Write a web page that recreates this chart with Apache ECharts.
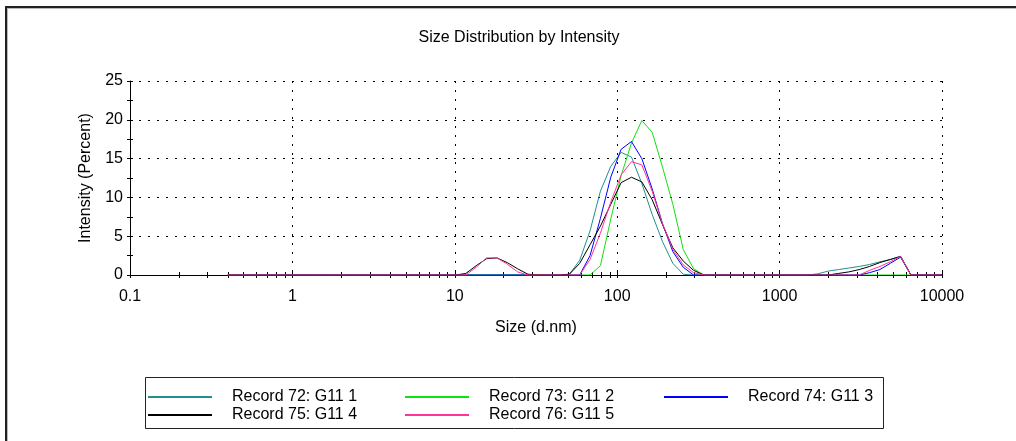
<!DOCTYPE html>
<html>
<head>
<meta charset="utf-8">
<script src="https://cdn.jsdelivr.net/npm/echarts@6/dist/echarts.min.js"></script>
<style>
  html, body { margin: 0; padding: 0; background: #fff; }
  #chart { width: 1016px; height: 441px; }
</style>
</head>
<body>
<div id="chart"></div>
<script>
// size bins (d.nm)
var sizes = [0.4, 0.4632, 0.5365, 0.6213, 0.7195, 0.8332, 0.9649, 1.117, 1.294, 1.499,
  1.736, 2.010, 2.328, 2.696, 3.122, 3.615, 4.187, 4.849, 5.615, 6.503,
  7.531, 8.721, 10.10, 11.70, 13.54, 15.69, 18.17, 21.04, 24.36, 28.21,
  32.67, 37.84, 43.82, 50.75, 58.77, 68.06, 78.82, 91.28, 105.7, 122.4,
  141.8, 164.2, 190.1, 220.2, 255.0, 295.3, 342.0, 396.1, 458.7, 531.2,
  615.1, 712.4, 825.0, 955.4, 1106, 1281, 1484, 1718, 1990, 2305,
  2669, 3091, 3580, 4145, 4801, 5560, 6439, 7456, 8635, 10000];

// intensity (%) per record
var rec72 = [0, 0, 0, 0, 0, 0, 0, 0, 0, 0,
  0, 0, 0, 0, 0, 0, 0, 0, 0, 0,
  0, 0, 0, 0, 0, 0, 0, 0, 0, 0,
  0, 0, 0, 0.1, 1.9, 5.7, 10.8, 14.0, 15.8, 15.2,
  11.8, 7.8, 4.3, 1.5, 0.1, 0, 0, 0, 0, 0,
  0, 0, 0, 0, 0, 0, 0, 0.15, 0.5, 0.7,
  0.9, 1.1, 1.35, 1.7, 2.0, 2.4, 0, 0, 0, 0];
var rec73 = [0, 0, 0, 0, 0, 0, 0, 0, 0, 0,
  0, 0, 0, 0, 0, 0, 0, 0, 0, 0,
  0, 0, 0, 0, 0, 0, 0, 0, 0, 0,
  0, 0, 0, 0, 0, 0, 1.2, 7.2, 12.8, 17.0,
  19.9, 18.4, 13.9, 9.1, 3.3, 0.8, 0, 0, 0, 0,
  0, 0, 0, 0, 0, 0, 0, 0, 0, 0,
  0, 0, 0, 0, 0, 0, 0, 0, 0, 0];
var rec74 = [0, 0, 0, 0, 0, 0, 0, 0, 0, 0,
  0, 0, 0, 0, 0, 0, 0, 0, 0, 0,
  0, 0, 0, 0, 0, 0, 0, 0, 0, 0,
  0, 0, 0, 0, 0, 2.5, 7.3, 12.6, 16.2, 17.2,
  15.0, 11.1, 6.6, 3.0, 1.0, 0, 0, 0, 0, 0,
  0, 0, 0, 0, 0, 0, 0, 0, 0, 0,
  0, 0, 0.3, 0.7, 1.5, 2.3, 0, 0, 0, 0];
var rec75 = [0, 0, 0, 0, 0, 0, 0, 0, 0, 0,
  0, 0, 0, 0, 0, 0, 0, 0, 0, 0,
  0, 0, 0, 0.2, 1.2, 2.1, 2.2, 1.6, 0.8, 0.1,
  0, 0, 0, 0.1, 1.5, 3.9, 6.3, 9.1, 11.9, 12.6,
  12.0, 9.7, 6.5, 3.5, 1.8, 0.6, 0, 0, 0, 0,
  0, 0, 0, 0, 0, 0, 0, 0, 0, 0.2,
  0.4, 0.7, 1.1, 1.6, 2.0, 2.4, 0, 0, 0, 0];
var rec76 = [0, 0, 0, 0, 0, 0, 0, 0, 0, 0,
  0, 0, 0, 0, 0, 0, 0, 0, 0, 0,
  0, 0, 0, 0, 1.0, 2.2, 2.2, 1.4, 0.4, 0,
  0, 0, 0, 0, 0, 2.0, 5.4, 9.4, 12.9, 14.6,
  14.2, 10.8, 6.6, 3.3, 1.3, 0.3, 0, 0, 0, 0,
  0, 0, 0, 0, 0, 0, 0, 0, 0, 0,
  0, 0, 0.6, 1.1, 1.7, 2.4, 0, 0, 0, 0];

var names = ['Record 72: G11 1', 'Record 73: G11 2', 'Record 74: G11 3', 'Record 75: G11 4', 'Record 76: G11 5'];
var colors = ['#1f9090', '#11e011', '#0000ff', '#000000', '#ff3399'];
var records = [rec72, rec73, rec74, rec75, rec76];

var FONT = '"Liberation Sans", Arial, sans-serif';
var chart = echarts.init(document.getElementById('chart'), null, { renderer: 'canvas' });

function pairs(vals) {
  return sizes.map(function (s, i) { return [s, vals[i]]; });
}

var series = records.map(function (vals, i) {
  return {
    name: names[i],
    type: 'line',
    data: pairs(vals),
    symbol: 'none',
    lineStyle: { width: 1, color: colors[i] },
    itemStyle: { color: colors[i] },
    animation: false,
    z: 3 + i
  };
});

var dotted = { type: [2, 7], color: '#000', width: 1 };
var legendCommon = {
  orient: 'vertical',
  top: 388,
  padding: 0,
  itemGap: 0,
  itemWidth: 64,
  itemHeight: 2,
  icon: 'rect',
  selectedMode: false,
  textStyle: { fontFamily: FONT, fontSize: 16, color: '#000', lineHeight: 18, padding: [0, 0, 0, 15] }
};

var option = {
  backgroundColor: '#fff',
  animation: false,
  title: {
    text: 'Size Distribution by Intensity',
    left: 514,
    textAlign: 'center',
    top: 25,
    textStyle: { fontFamily: FONT, fontSize: 16, fontWeight: 'normal', color: '#000' }
  },
  grid: { left: 130, right: 74, top: 81, bottom: 166 },
  legend: [
    Object.assign({}, legendCommon, { left: 148, data: [names[0], names[3]] }),
    Object.assign({}, legendCommon, { left: 405, data: [names[1], names[4]] }),
    Object.assign({}, legendCommon, { left: 664, data: [names[2]] })
  ],
  xAxis: [{
    type: 'log',
    logBase: 10,
    min: 0.1,
    max: 10000,
    name: 'Size (d.nm)',
    nameLocation: 'middle',
    nameGap: 45,
    nameTextStyle: { fontFamily: FONT, fontSize: 16, color: '#000' },
    axisLine: { lineStyle: { color: '#000', width: 1 } },
    axisTick: { length: 3, lineStyle: { color: '#000' } },
    minorTick: { show: true, splitNumber: 9, length: 3, lineStyle: { color: '#000' } },
    axisLabel: {
      fontFamily: FONT, fontSize: 16, color: '#000', margin: 14,
      formatter: function (v) { return String(+(+v).toPrecision(6)); }
    },
    splitLine: { show: true, lineStyle: dotted }
  }, {
    type: 'log',
    logBase: 10,
    min: 0.1,
    max: 10000,
    position: 'bottom',
    axisLine: { show: false },
    axisTick: { inside: true, length: 3, lineStyle: { color: '#000' } },
    minorTick: { show: true, splitNumber: 9, length: 3, lineStyle: { color: '#000' } },
    axisLabel: { show: false },
    splitLine: { show: false }
  }],
  yAxis: [{
    type: 'value',
    min: 0,
    max: 25,
    interval: 5,
    name: 'Intensity (Percent)',
    nameLocation: 'middle',
    nameGap: 36,
    nameTextStyle: { fontFamily: FONT, fontSize: 16, color: '#000' },
    axisLine: { show: true, onZero: false, lineStyle: { color: '#000', width: 1 } },
    axisTick: { show: true, length: 3, lineStyle: { color: '#000' } },
    minorTick: { show: true, splitNumber: 2, length: 3, lineStyle: { color: '#000' } },
    axisLabel: { fontFamily: FONT, fontSize: 16, color: '#000', margin: 7 },
    splitLine: { show: true, lineStyle: dotted }
  }, {
    type: 'value',
    min: 0,
    max: 25,
    interval: 5,
    position: 'left',
    axisLine: { show: false, onZero: false },
    axisTick: { show: true, inside: true, length: 3, lineStyle: { color: '#000' } },
    minorTick: { show: true, splitNumber: 2, length: 3, lineStyle: { color: '#000' } },
    axisLabel: { show: false },
    splitLine: { show: false }
  }],
  graphic: [
    // outer panel frame (top and left edges only)
    { type: 'line', shape: { x1: 6, y1: 7, x2: 1016, y2: 7 }, style: { stroke: '#222', lineWidth: 2 }, silent: true },
    { type: 'line', shape: { x1: 6, y1: 8.5, x2: 1016, y2: 8.5 }, style: { stroke: '#bbb', lineWidth: 1 }, silent: true },
    { type: 'line', shape: { x1: 6, y1: 6, x2: 6, y2: 441 }, style: { stroke: '#222', lineWidth: 2 }, silent: true },
    { type: 'line', shape: { x1: 7.5, y1: 8, x2: 7.5, y2: 441 }, style: { stroke: '#bbb', lineWidth: 1 }, silent: true },
    // legend box
    { type: 'rect', shape: { x: 145.5, y: 377.5, width: 738, height: 51 }, style: { fill: 'none', stroke: '#222', lineWidth: 1 }, silent: true, z: -1 }
  ],
  series: series
};

chart.setOption(option);
</script>
</body>
</html>
